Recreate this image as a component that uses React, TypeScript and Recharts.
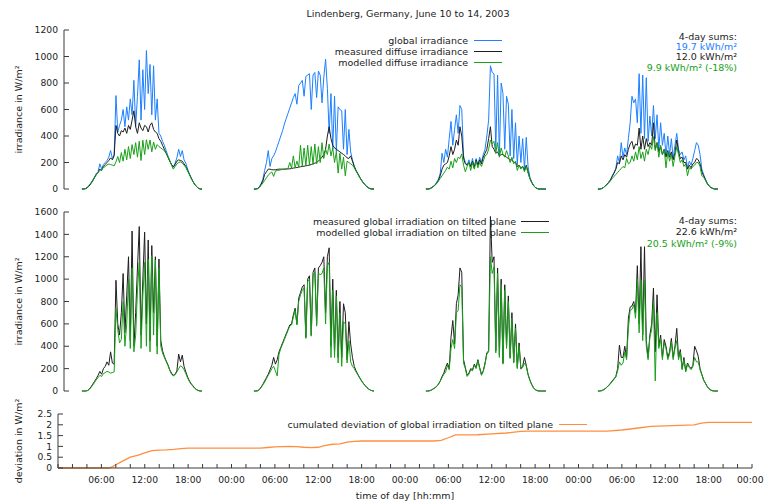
import { LineChart, Line, XAxis, YAxis, Legend } from 'recharts'

// daylight series are sampled every 15 minutes
const STEP_H = 0.25
// first sample of each day, in hours since June 10 00:00
const dayStart = [2.5, 26.5, 50.5, 74.5]

// horizontal plane, W/m²
const globalDay1 = [0, 0, 3, 12, 25, 45, 65, 90, 115, 130, 190, 150, 185, 200, 215, 240, 290, 230, 260, 705, 430, 480, 520, 600, 470, 620, 520, 680, 560, 820, 470, 700, 975, 520, 900, 600, 1045, 720, 940, 560, 930, 520, 680, 420, 400, 360, 330, 290, 250, 215, 185, 165, 195, 235, 300, 245, 290, 220, 195, 150, 115, 85, 58, 35, 18, 6, 0, 0]
const globalDay2 = [0, 0, 3, 15, 40, 75, 140, 200, 290, 170, 230, 250, 280, 320, 360, 400, 440, 490, 530, 570, 610, 650, 690, 720, 640, 780, 800, 820, 700, 850, 860, 870, 600, 860, 880, 690, 890, 860, 650, 840, 980, 760, 420, 720, 300, 700, 280, 620, 600, 590, 300, 600, 260, 450, 280, 220, 170, 140, 115, 90, 68, 48, 32, 18, 8, 2, 0, 0]
const globalDay3 = [0, 0, 2, 8, 18, 30, 50, 75, 120, 270, 200, 300, 240, 380, 510, 330, 450, 560, 420, 630, 600, 250, 200, 180, 220, 170, 230, 160, 230, 180, 240, 200, 260, 300, 400, 520, 930, 880, 870, 300, 860, 250, 800, 720, 300, 700, 640, 250, 600, 230, 500, 180, 400, 200, 380, 150, 390, 170, 90, 55, 30, 12, 4, 0, 0, 0, 0, 0]
const globalDay4 = [0, 0, 3, 10, 22, 35, 50, 70, 100, 125, 155, 250, 200, 350, 240, 310, 260, 380, 500, 700, 650, 680, 500, 870, 420, 860, 380, 840, 360, 550, 400, 630, 380, 560, 300, 500, 330, 420, 250, 400, 260, 380, 230, 330, 420, 300, 260, 280, 220, 250, 160, 210, 180, 230, 290, 350, 330, 260, 150, 110, 75, 45, 25, 12, 5, 0, 0, 0]

const diffuseDay1 = [0, 0, 3, 10, 22, 40, 60, 85, 110, 125, 150, 140, 170, 185, 200, 215, 235, 220, 250, 480, 420, 400, 440, 430, 460, 420, 480, 450, 520, 590, 470, 420, 500, 460, 440, 480, 470, 430, 480, 500, 450, 430, 420, 380, 360, 330, 300, 270, 240, 210, 185, 165, 185, 210, 220, 215, 210, 190, 170, 140, 110, 82, 56, 34, 18, 6, 0, 0]
const diffuseDay2 = [0, 0, 3, 12, 35, 60, 110, 130, 150, 150, 145, 145, 145, 148, 150, 150, 150, 150, 150, 152, 152, 155, 158, 160, 162, 165, 168, 170, 172, 175, 178, 180, 185, 190, 195, 200, 210, 225, 240, 260, 300, 400, 470, 380, 330, 310, 300, 290, 280, 270, 260, 250, 235, 230, 250, 210, 170, 140, 115, 90, 68, 48, 32, 18, 8, 2, 0, 0]
const diffuseDay3 = [0, 0, 2, 8, 18, 28, 45, 65, 100, 150, 180, 190, 200, 250, 320, 260, 300, 370, 330, 470, 400, 230, 190, 180, 200, 170, 210, 160, 220, 180, 220, 190, 240, 270, 300, 380, 470, 320, 300, 270, 280, 250, 260, 260, 250, 240, 230, 220, 220, 200, 200, 170, 180, 160, 170, 140, 180, 130, 80, 50, 28, 12, 4, 0, 0, 0, 0, 0]
const diffuseDay4 = [0, 0, 3, 10, 22, 35, 50, 68, 95, 120, 150, 200, 190, 250, 220, 260, 240, 300, 340, 360, 300, 340, 330, 460, 300, 400, 300, 380, 320, 350, 330, 500, 300, 350, 280, 320, 260, 300, 240, 290, 240, 280, 220, 270, 370, 280, 230, 240, 200, 200, 150, 180, 160, 190, 200, 230, 220, 190, 130, 100, 70, 42, 24, 12, 5, 0, 0, 0]

const modelDiffuseDay1 = [0, 0, 3, 12, 28, 45, 65, 85, 108, 125, 140, 150, 160, 170, 182, 188, 185, 180, 175, 205, 245, 200, 275, 210, 300, 220, 320, 230, 335, 260, 350, 240, 360, 215, 368, 260, 372, 300, 370, 280, 355, 300, 335, 320, 310, 300, 290, 270, 245, 215, 180, 150, 170, 190, 200, 205, 195, 180, 162, 135, 108, 80, 55, 34, 18, 6, 0, 0]
const modelDiffuseDay2 = [0, 0, 3, 12, 28, 45, 65, 85, 105, 118, 128, 95, 135, 140, 142, 145, 148, 150, 152, 155, 200, 158, 250, 162, 210, 165, 330, 170, 310, 175, 330, 180, 320, 185, 340, 190, 320, 200, 350, 230, 300, 260, 340, 250, 310, 200, 280, 120, 270, 150, 240, 100, 210, 200, 190, 180, 160, 135, 112, 88, 66, 47, 31, 18, 8, 2, 0, 0]
const modelDiffuseDay3 = [0, 0, 2, 8, 18, 28, 40, 60, 80, 100, 120, 140, 165, 150, 210, 160, 230, 200, 240, 230, 265, 180, 130, 170, 200, 140, 200, 150, 210, 160, 200, 170, 210, 250, 260, 300, 370, 340, 360, 270, 350, 240, 310, 260, 240, 290, 250, 200, 240, 190, 210, 140, 180, 150, 170, 130, 170, 120, 80, 50, 28, 12, 4, 0, 0, 0, 0, 0]
const modelDiffuseDay4 = [0, 0, 3, 10, 22, 32, 45, 62, 80, 95, 110, 125, 140, 155, 170, 160, 230, 190, 200, 250, 210, 280, 220, 320, 230, 280, 210, 300, 260, 330, 300, 395, 290, 350, 240, 330, 260, 300, 160, 280, 210, 260, 170, 250, 320, 260, 200, 220, 170, 190, 100, 160, 150, 170, 180, 200, 200, 170, 100, 90, 65, 40, 22, 12, 5, 0, 0, 0]

// tilted plane, W/m²
const tiltedDay1 = [0, 0, 0, 3, 15, 35, 60, 85, 110, 140, 175, 150, 200, 220, 260, 230, 350, 250, 240, 990, 600, 500, 700, 1050, 520, 850, 1200, 450, 1430, 400, 700, 1100, 1470, 500, 1000, 1420, 600, 1350, 450, 1300, 700, 1200, 400, 1180, 450, 360, 310, 270, 235, 190, 160, 140, 150, 180, 330, 260, 320, 220, 170, 125, 90, 65, 45, 25, 12, 4, 0, 0]
const tiltedDay2 = [0, 0, 2, 12, 35, 60, 90, 120, 150, 190, 230, 300, 240, 280, 350, 390, 430, 470, 510, 550, 590, 600, 680, 740, 600, 830, 880, 930, 950, 480, 1000, 1030, 500, 1060, 1100, 600, 1100, 1120, 1150, 1200, 700, 1200, 1280, 400, 1000, 350, 900, 300, 800, 300, 780, 700, 280, 620, 420, 300, 220, 180, 150, 120, 95, 70, 50, 32, 18, 8, 2, 0]
const tiltedDay3 = [0, 0, 2, 8, 18, 28, 42, 62, 90, 130, 160, 210, 250, 200, 480, 630, 420, 780, 860, 1100, 1060, 280, 210, 140, 160, 200, 190, 240, 210, 280, 210, 150, 180, 250, 340, 360, 1560, 1150, 1200, 360, 1100, 320, 1000, 250, 950, 400, 850, 300, 700, 260, 600, 210, 430, 200, 220, 300, 230, 150, 100, 60, 30, 12, 4, 0, 0, 0, 0, 0]
const tiltedDay4 = [0, 0, 3, 10, 20, 35, 50, 70, 90, 110, 130, 200, 410, 300, 300, 400, 300, 650, 750, 760, 800, 700, 1120, 600, 1290, 500, 1290, 450, 300, 500, 600, 920, 350, 860, 400, 500, 300, 460, 400, 300, 350, 470, 300, 400, 560, 300, 370, 200, 300, 180, 250, 220, 200, 230, 400, 360, 310, 200, 150, 100, 70, 40, 20, 8, 2, 0, 0, 0]

const tiltedModelDay1 = [0, 0, 0, 3, 12, 30, 52, 75, 100, 120, 140, 130, 155, 165, 175, 170, 160, 165, 170, 740, 550, 430, 460, 800, 400, 600, 1000, 380, 1100, 350, 500, 900, 1150, 380, 850, 1150, 400, 1180, 350, 1210, 500, 1170, 330, 1100, 400, 340, 300, 265, 230, 185, 150, 135, 145, 170, 200, 225, 215, 190, 155, 115, 85, 60, 42, 24, 12, 4, 0, 0]
const tiltedModelDay2 = [0, 0, 2, 10, 30, 55, 80, 110, 140, 170, 200, 220, 180, 135, 330, 380, 420, 460, 500, 540, 580, 590, 660, 720, 590, 800, 860, 900, 920, 470, 980, 1000, 490, 1030, 1060, 580, 1050, 1040, 1050, 1100, 600, 1120, 1150, 300, 900, 300, 850, 250, 700, 220, 620, 600, 250, 450, 260, 220, 200, 170, 145, 115, 90, 68, 48, 30, 18, 8, 2, 0]
const tiltedModelDay3 = [0, 0, 2, 8, 18, 28, 40, 60, 88, 120, 150, 170, 230, 190, 380, 460, 380, 700, 720, 950, 930, 250, 200, 130, 150, 190, 180, 230, 200, 270, 200, 140, 175, 240, 330, 350, 1200, 1050, 1110, 340, 1050, 300, 950, 240, 900, 380, 800, 290, 650, 250, 560, 200, 400, 195, 210, 250, 220, 145, 95, 58, 30, 12, 4, 0, 0, 0, 0, 0]
const tiltedModelDay4 = [0, 0, 3, 10, 20, 32, 48, 65, 85, 105, 125, 180, 260, 230, 250, 350, 280, 560, 720, 730, 770, 650, 1000, 520, 990, 450, 990, 400, 280, 480, 550, 800, 90, 700, 380, 470, 280, 430, 380, 280, 330, 440, 280, 380, 450, 280, 350, 190, 280, 170, 240, 210, 190, 220, 300, 260, 260, 190, 145, 95, 68, 40, 20, 8, 2, 0, 0, 0]

// cumulated deviation, tilted plane
const deviationHours = [0, 7, 7.5, 8, 9, 10, 11, 12, 13, 14, 15, 16, 17, 18, 28, 29, 30, 32, 33, 34, 35, 36, 37, 38, 39, 40, 41, 42, 52, 53, 54, 55, 58, 60, 62, 64, 65, 76, 78, 80, 82, 85, 88, 89, 90, 96]
const deviationValues = [0, 0, 0.05, 0.15, 0.33, 0.5, 0.58, 0.7, 0.8, 0.83, 0.84, 0.86, 0.9, 0.92, 0.92, 0.95, 0.98, 1.0, 0.99, 0.96, 0.94, 0.96, 1.05, 1.1, 1.12, 1.2, 1.23, 1.25, 1.25, 1.28, 1.4, 1.53, 1.54, 1.58, 1.62, 1.7, 1.71, 1.71, 1.76, 1.84, 1.93, 1.96, 2.0, 2.08, 2.11, 2.11]

const irradianceTicks = [0, 200, 400, 600, 800, 1000, 1200]
const tiltedTicks = [0, 200, 400, 600, 800, 1000, 1200, 1400, 1600]
const deviationTicks = [0, 0.5, 1, 1.5, 2, 2.5]
const hourTicks3 = Array.from({ length: 33 }, (_, i) => i * 3)
const hourTicks2 = Array.from({ length: 49 }, (_, i) => i * 2)

const BLUE = '#1c80ff'
const BLACK = '#1e1e1e'
const GREEN = '#18a018'
const ORANGE = '#ff8f40'
const FRAME = '#3a3a3a'
const TEXT = '#222'
const FONT = '"DejaVu Sans", Verdana, sans-serif'
const FS = 9.5
const TICK_FS = 9.2
const TICK_LEN = 5
const Y_GAP = 6
const X_GAP = 8

type Row = { t: number; [k: string]: number }

// merge per-day arrays into rows; an empty row between days breaks the lines at night
function buildRows(series: Record<string, number[][]>) {
  const rows: Row[] = []
  const keys = Object.keys(series)
  dayStart.forEach((start, d) => {
    if (d > 0) rows.push({ t: start - 3 })
    const n = series[keys[0]][d].length
    for (let i = 0; i < n; i++) {
      const row: Row = { t: start + i * STEP_H }
      keys.forEach(k => { row[k] = series[k][d][i] })
      rows.push(row)
    }
  })
  return rows
}

const horizontalRows = buildRows({
  global: [globalDay1, globalDay2, globalDay3, globalDay4],
  diffuse: [diffuseDay1, diffuseDay2, diffuseDay3, diffuseDay4],
  modelDiffuse: [modelDiffuseDay1, modelDiffuseDay2, modelDiffuseDay3, modelDiffuseDay4],
})
const tiltedRows = buildRows({
  measured: [tiltedDay1, tiltedDay2, tiltedDay3, tiltedDay4],
  modelled: [tiltedModelDay1, tiltedModelDay2, tiltedModelDay3, tiltedModelDay4],
})
const deviationRows = deviationHours.map((t, i) => ({ t, dev: deviationValues[i] }))

const hhmm = (h: number) => `${String(h % 24).padStart(2, '0')}:00`

// gnuplot-style ticks: short marks pointing into the plot
const leftTick = (p: any) => {
  const x0 = p.x + Y_GAP
  return (
    <g>
      <line x1={x0} x2={x0 + TICK_LEN} y1={p.y} y2={p.y} stroke={FRAME} />
      <text x={p.x} y={p.y} dy="0.35em" textAnchor="end" fontSize={TICK_FS} fill={TEXT}>{p.payload.value}</text>
    </g>
  )
}
const rightTick = (p: any) => <line x1={p.x - TICK_LEN} x2={p.x} y1={p.y} y2={p.y} stroke={FRAME} />
const topTick = (p: any) => <line x1={p.x} x2={p.x} y1={p.y} y2={p.y + TICK_LEN} stroke={FRAME} />
const bottomTick = (p: any) => <line x1={p.x} x2={p.x} y1={p.y - TICK_LEN} y2={p.y} stroke={FRAME} />
const timeTick = (p: any) => {
  const y0 = p.y - X_GAP
  const v = p.payload.value
  // the last label would run past the page edge, so it is right-aligned there
  const last = v === 96
  return (
    <g>
      <line x1={p.x} x2={p.x} y1={y0 - 4} y2={y0} stroke={FRAME} />
      {v > 0 && v % 6 === 0 && (
        <text x={last ? p.x + 11.5 : p.x} y={p.y} dy="0.75em" textAnchor={last ? 'end' : 'middle'} fontSize={TICK_FS} fill={TEXT}>{hhmm(v)}</text>
      )}
    </g>
  )
}

const legendContent = (lineLeftGap: number) => (props: any) => (
  <div style={{ fontSize: FS, color: TEXT }}>
    {(props.payload || []).map((e: any) => (
      <div key={e.value} style={{ display: 'flex', justifyContent: 'flex-end', alignItems: 'center', height: 11 }}>
        <span>{e.value}</span>
        <span style={{ display: 'inline-block', width: 28, height: 1, background: e.color, marginLeft: lineLeftGap }} />
      </div>
    ))}
  </div>
)

const yLabel = (value: string) => ({
  value,
  angle: -90,
  position: 'insideLeft' as const,
  offset: 19,
  style: { textAnchor: 'middle', fontSize: FS, fill: TEXT },
})

export default function App() {
  const common = { isAnimationActive: false, dot: false, activeDot: false, strokeWidth: 1, type: 'linear' as const, xAxisId: 'x', yAxisId: 'v' }
  return (
    <div style={{ position: 'absolute', left: 0, top: 0, width: 764, height: 501, background: '#fff', fontFamily: FONT, color: TEXT }}>
      <div style={{ position: 'absolute', left: 408, top: 8, transform: 'translateX(-50%)', whiteSpace: 'nowrap', fontSize: FS, lineHeight: '12px' }}>
        Lindenberg, Germany, June 10 to 14, 2003
      </div>

      <div style={{ position: 'absolute', left: 0, top: 0 }}>
        <LineChart width={764} height={200} data={horizontalRows} margin={{ top: 30, right: 12, bottom: 11, left: 0 }}>
          <XAxis xAxisId="x" dataKey="t" type="number" domain={[0, 96]} ticks={hourTicks3} interval={0} height={0} tickSize={0} tickMargin={0} tickLine={false} tick={bottomTick} axisLine={{ stroke: FRAME }} />
          <XAxis xAxisId="top" orientation="top" dataKey="t" type="number" domain={[0, 96]} ticks={hourTicks3} interval={0} height={0} tickSize={0} tickMargin={0} tickLine={false} tick={topTick} axisLine={{ stroke: FRAME }} />
          <YAxis yAxisId="v" domain={[0, 1200]} ticks={irradianceTicks} interval={0} width={64} tickSize={0} tickMargin={Y_GAP} tickLine={false} tick={leftTick} axisLine={{ stroke: FRAME }} label={yLabel('irradiance in W/m²')} />
          <YAxis yAxisId="r" orientation="right" domain={[0, 1200]} ticks={irradianceTicks} interval={0} width={0} tickSize={0} tickMargin={0} tickLine={false} tick={rightTick} axisLine={{ stroke: FRAME }} />
          <Line {...common} dataKey="global" name="global irradiance" stroke={BLUE} />
          <Line {...common} dataKey="diffuse" name="measured diffuse irradiance" stroke={BLACK} />
          <Line {...common} dataKey="modelDiffuse" name="modelled diffuse irradiance" stroke={GREEN} />
          <Legend layout="vertical" align="center" verticalAlign="middle" content={legendContent(6)} wrapperStyle={{ top: 34.5, left: 0, width: 502 }} />
        </LineChart>
      </div>
      <div style={{ position: 'absolute', right: 27, top: 32, textAlign: 'right', fontSize: FS, lineHeight: '10.2px', whiteSpace: 'nowrap' }}>
        <div>4-day sums:</div>
        <div style={{ color: BLUE }}>19.7 kWh/m²</div>
        <div>12.0 kWh/m²</div>
        <div style={{ color: GREEN }}>9.9 kWh/m² (-18%)</div>
      </div>

      <div style={{ position: 'absolute', left: 0, top: 200 }}>
        <LineChart width={764} height={200} data={tiltedRows} margin={{ top: 12, right: 12, bottom: 9, left: 0 }}>
          <XAxis xAxisId="x" dataKey="t" type="number" domain={[0, 96]} ticks={hourTicks3} interval={0} height={0} tickSize={0} tickMargin={0} tickLine={false} tick={bottomTick} axisLine={{ stroke: FRAME }} />
          <XAxis xAxisId="top" orientation="top" dataKey="t" type="number" domain={[0, 96]} ticks={hourTicks3} interval={0} height={0} tickSize={0} tickMargin={0} tickLine={false} tick={topTick} axisLine={{ stroke: FRAME }} />
          <YAxis yAxisId="v" domain={[0, 1600]} ticks={tiltedTicks} interval={0} width={64} tickSize={0} tickMargin={Y_GAP} tickLine={false} tick={leftTick} axisLine={{ stroke: FRAME }} label={yLabel('irradiance in W/m²')} />
          <YAxis yAxisId="r" orientation="right" domain={[0, 1600]} ticks={tiltedTicks} interval={0} width={0} tickSize={0} tickMargin={0} tickLine={false} tick={rightTick} axisLine={{ stroke: FRAME }} />
          <Line {...common} dataKey="measured" name="measured global irradiation on tilted plane" stroke={BLACK} />
          <Line {...common} dataKey="modelled" name="modelled global irradiation on tilted plane" stroke={GREEN} />
          <Legend layout="vertical" align="center" verticalAlign="middle" content={legendContent(5)} wrapperStyle={{ top: 15.5, left: 0, width: 549 }} />
        </LineChart>
      </div>
      <div style={{ position: 'absolute', right: 27, top: 215, textAlign: 'right', fontSize: FS, lineHeight: '11.3px', whiteSpace: 'nowrap' }}>
        <div>4-day sums:</div>
        <div>22.6 kWh/m²</div>
        <div style={{ color: GREEN }}>20.5 kWh/m² (-9%)</div>
      </div>

      <div style={{ position: 'absolute', left: 0, top: 390 }}>
        <LineChart width={764} height={111} data={deviationRows} margin={{ top: 24, right: 12, bottom: 0, left: 0 }}>
          <XAxis
            xAxisId="x" dataKey="t" type="number" domain={[0, 96]} ticks={hourTicks2} interval={0} height={33}
            tickSize={0} tickMargin={X_GAP} tickLine={false} tick={timeTick} axisLine={{ stroke: FRAME }}
            label={{ value: 'time of day [hh:mm]', position: 'insideBottom', offset: 2, style: { fontSize: FS, fill: TEXT } }}
          />
          <XAxis xAxisId="top" orientation="top" dataKey="t" type="number" domain={[0, 96]} ticks={hourTicks2} interval={0} height={0} tickSize={0} tickMargin={0} tickLine={false} tick={topTick} axisLine={{ stroke: FRAME }} />
          <YAxis yAxisId="v" domain={[0, 2.5]} ticks={deviationTicks} interval={0} width={58} tickSize={0} tickMargin={Y_GAP} tickLine={false} tick={leftTick} axisLine={{ stroke: FRAME }} label={yLabel('deviation in W/m²')} />
          <YAxis yAxisId="r" orientation="right" domain={[0, 2.5]} ticks={deviationTicks} interval={0} width={0} tickSize={0} tickMargin={0} tickLine={false} tick={rightTick} axisLine={{ stroke: FRAME }} />
          <Line {...common} dataKey="dev" name="cumulated deviation of global irradiation on tilted plane" stroke={ORANGE} strokeWidth={1.3} />
          <Legend layout="vertical" align="center" verticalAlign="middle" content={legendContent(6)} wrapperStyle={{ top: 28.5, left: 0, width: 587 }} />
        </LineChart>
      </div>
    </div>
  )
}
